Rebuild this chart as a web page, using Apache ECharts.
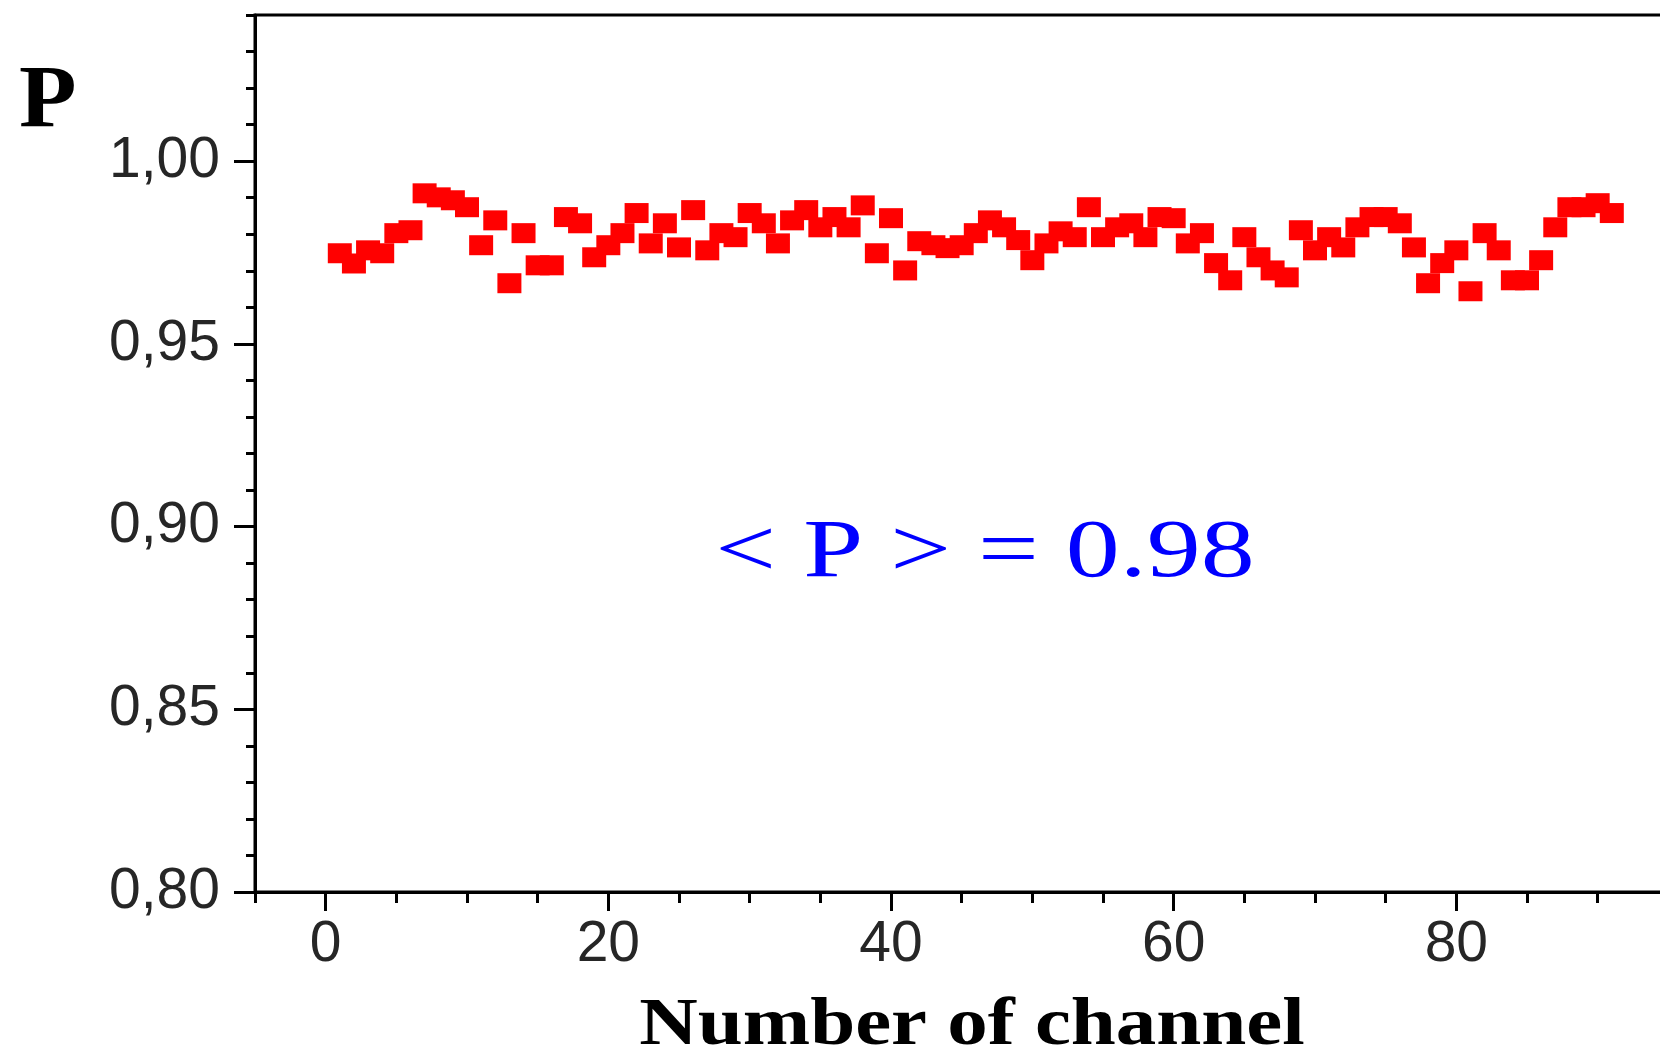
<!DOCTYPE html>
<html>
<head>
<meta charset="utf-8">
<script src="https://cdn.jsdelivr.net/npm/echarts@6/dist/echarts.min.js"></script>
<style>
html,body{margin:0;padding:0;background:#fff;}
#chart{width:1660px;height:1050px;}
</style>
</head>
<body>
<div id="chart"></div>
<script>
const channels = [1,2,3,4,5,6,7,8,9,10,11,12,13,14,15,16,17,18,19,20,21,22,23,24,25,26,27,28,29,30,
  31,32,33,34,35,36,37,38,39,40,41,42,43,44,45,46,47,48,49,50,51,52,53,54,55,56,57,58,59,60,
  61,62,63,64,65,66,67,68,69,70,71,72,73,74,75,76,77,78,79,80,81,82,83,84,85,86,87,88,89,90,91];
const pValues = [0.9748,0.9720,0.9756,0.9748,0.9803,0.9811,0.9912,0.9901,0.9893,0.9874,
  0.9770,0.9838,0.9666,0.9803,0.9715,0.9715,0.9847,0.9830,0.9737,0.9770,
  0.9803,0.9858,0.9775,0.9830,0.9764,0.9866,0.9756,0.9803,0.9792,0.9858,
  0.9830,0.9775,0.9838,0.9866,0.9819,0.9847,0.9819,0.9879,0.9748,0.9844,
  0.9701,0.9781,0.9770,0.9762,0.9770,0.9803,0.9838,0.9819,0.9784,0.9729,
  0.9775,0.9808,0.9792,0.9874,0.9792,0.9819,0.9830,0.9792,0.9847,0.9844,
  0.9775,0.9803,0.9721,0.9674,0.9792,0.9737,0.9701,0.9682,0.9811,0.9756,
  0.9792,0.9764,0.9819,0.9847,0.9847,0.9830,0.9764,0.9666,0.9721,0.9756,
  0.9644,0.9803,0.9756,0.9674,0.9674,0.9729,0.9819,0.9874,0.9874,0.9885,0.9858];
const xMajorTicks = [0,20,40,60,80];
const yMajorTicks = [0.80,0.85,0.90,0.95,1.00];
const yAxisName = 'P';
const xAxisName = 'Number of channel';
const annotation = '< P > = 0.98';

const chart = echarts.init(document.getElementById('chart'), null, {renderer:'canvas'});
const data = channels.map((c,i)=>[c,pValues[i]]);
const labelFont = {fontFamily:'Liberation Sans', fontSize:57, color:'#262626'};

chart.setOption({
  animation:false,
  backgroundColor:'#ffffff',
  grid:{left:255, top:15, width:1484, height:877, outerBoundsMode:'none', containLabel:false,
    show:true, borderColor:'#000', borderWidth:3, backgroundColor:'transparent'},
  xAxis:[
    {type:'value', min:-5, max:100, interval:5, position:'bottom',
      axisLine:{show:true, onZero:false, lineStyle:{color:'#000', width:3}},
      axisTick:{show:true, inside:false, length:11, lineStyle:{color:'#000', width:3}},
      axisLabel:{show:false}, splitLine:{show:false}},
    {type:'value', min:-5, max:100, position:'bottom', gridIndex:0,
      axisLine:{show:false, onZero:false},
      axisTick:{show:true, inside:false, length:19, customValues:xMajorTicks, lineStyle:{color:'#000', width:3}},
      axisLabel:Object.assign({show:true, margin:25, customValues:xMajorTicks}, labelFont),
      splitLine:{show:false}}
  ],
  yAxis:[
    {type:'value', min:0.80, max:1.04, interval:0.01, position:'left',
      axisLine:{show:true, onZero:false, lineStyle:{color:'#000', width:3}},
      axisTick:{show:true, inside:false, length:9, lineStyle:{color:'#000', width:3}},
      axisLabel:{show:false}, splitLine:{show:false}},
    {type:'value', min:0.80, max:1.04, position:'left',
      axisLine:{show:false, onZero:false},
      axisTick:{show:true, inside:false, length:21, customValues:yMajorTicks, lineStyle:{color:'#000', width:3}},
      axisLabel:Object.assign({show:true, margin:35, customValues:yMajorTicks, padding:[0,0,12,0],
        formatter:v=>v.toFixed(2).replace('.', ',')}, labelFont),
      splitLine:{show:false}}
  ],
  series:[{
    type:'scatter', xAxisIndex:0, yAxisIndex:0,
    symbol:'rect', symbolSize:[24,20],
    itemStyle:{color:'#ff0000', opacity:1},
    emphasis:{disabled:true},
    data:data, clip:false
  }],
  graphic:[
    {type:'text', x:19, y:103, scaleX:1.07,
      style:{text:yAxisName, fontFamily:'Liberation Serif', fontWeight:'bold', fontSize:88, fill:'#000',
        align:'left', verticalAlign:'middle', textAlign:'left', textVerticalAlign:'middle'}},
    {type:'text', x:972, y:1026, scaleX:1.19,
      style:{text:xAxisName, fontFamily:'Liberation Serif', fontWeight:'bold', fontSize:68, fill:'#000',
        align:'center', verticalAlign:'middle', textAlign:'center', textVerticalAlign:'middle'}},
    {type:'text', x:985, y:554, scaleX:1.30,
      style:{text:annotation, fontFamily:'Liberation Serif', fontSize:83, fill:'#0000ff',
        align:'center', verticalAlign:'middle', textAlign:'center', textVerticalAlign:'middle'}}
  ]
});
</script>
</body>
</html>
